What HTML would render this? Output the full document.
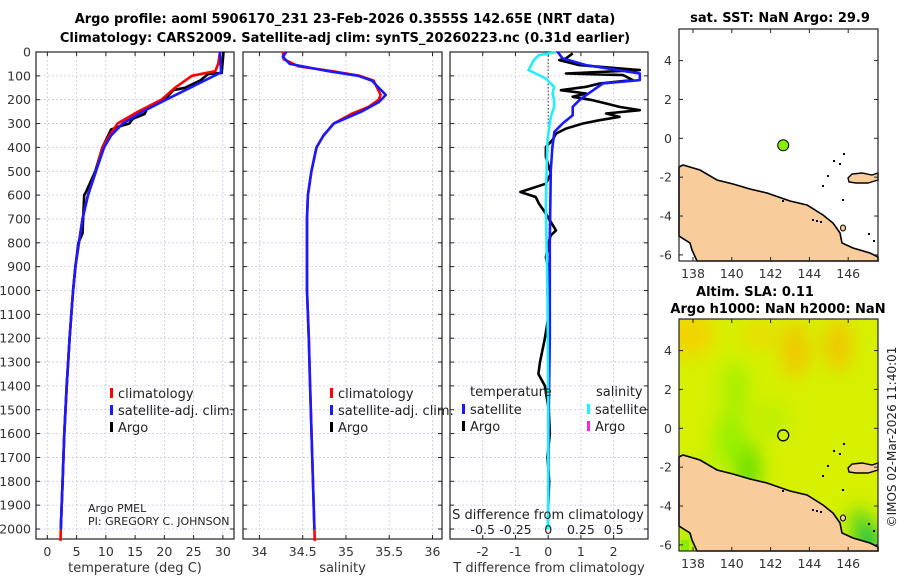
<!DOCTYPE html>
<html><head><meta charset="utf-8"><style>
html,body{margin:0;padding:0;background:#fff;}
svg{display:block;font-family:"DejaVu Sans","Liberation Sans",sans-serif;}
</style></head><body>
<svg id="c" width="900" height="580" viewBox="0 0 900 580" xmlns="http://www.w3.org/2000/svg">
<defs>
<clipPath id="mapclip2"><rect x="679" y="319" width="199" height="232"/></clipPath>
<filter id="blur" x="-50%" y="-50%" width="200%" height="200%"><feGaussianBlur stdDeviation="9"/></filter>
</defs>
<text x="345" y="23" text-anchor="middle" font-size="13" font-weight="bold">Argo profile: aoml 5906170_231 23-Feb-2026 0.3555S 142.65E (NRT data)</text>
<text x="345" y="42" text-anchor="middle" font-size="13" font-weight="bold">Climatology: CARS2009. Satellite-adj clim: synTS_20260223.nc (0.31d earlier)</text>
<g id="panels"></g>
<g id="maps"></g>
<text x="0" y="0" transform="translate(896,437) rotate(-90)" text-anchor="middle" font-size="12" fill="#222">©IMOS 02-Mar-2026 11:40:01</text>
</svg>
<script>
// ---------- data ----------
const climTDepth = [0,50,80,100,150,200,250,300,350,400,500,600,700,800,900,1000,1100,1200,1400,1600,1800,2000,2050];
const climT = [29.5,29.2,28.7,24.7,21.8,19.5,15.5,12,10.6,9.4,8.3,6.95,6.0,5.4,4.8,4.4,4.1,3.8,3.3,2.9,2.6,2.3,2.25];
const satTDepth = [0,85,140,200,250,300,350,400,500,600,700,800,900,1000,1100,1200,1400,1600,1800,2000];
const satT = [29.5,29.7,25.2,20.3,16.3,12.9,10.9,9.7,8.3,6.95,6.0,5.4,4.8,4.4,4.1,3.8,3.3,2.9,2.6,2.3];
const argoTDepth = [0,88,92,120,150,160,200,230,260,280,300,310,325,400,500,590,600,760,800,900,1000,1200,1400,1600,1800,2000];
const argoT = [30.1,29.8,27.5,26.1,23.5,21.5,20.1,17.2,16.6,14.6,14,12.6,10.9,9.4,8.2,6.55,6.3,6.0,5.3,4.8,4.4,3.8,3.3,2.9,2.6,2.3];
const climSDepth = [0,30,60,80,100,120,150,180,200,230,260,300,350,400,500,600,700,1000,1200,1400,2000,2050];
const climS = [34.27,34.28,34.45,34.84,35.16,35.32,35.36,35.40,35.38,35.26,35.06,34.86,34.74,34.66,34.60,34.56,34.55,34.55,34.57,34.585,34.635,34.64];
const satSDepth = [0,20,50,80,100,120,150,180,210,250,300,350,400,500,600,700,1000,1200,1400,2000];
const satS = [34.31,34.27,34.35,34.79,35.14,35.30,35.38,35.46,35.38,35.18,34.86,34.74,34.66,34.60,34.56,34.55,34.55,34.57,34.585,34.635];
const satDTDepth = [0,27,55,90,118,132,181,202,230,265,300,335,398,496,800,1200,1500,2000];
const satDT = [0.29,0.44,1.16,2.8,2.8,1.67,1.16,0.95,0.75,0.75,0.44,0.19,0.13,0.08,0.05,0.05,0.02,0.0];
const argoDTDepth = [6,27,34,55,76,90,97,118,132,146,160,174,188,202,216,230,244,258,272,286,300,321,342,370,398,440,510,552,587,608,636,678,748,769,790,860,930,1000,1100,1200,1300,1350,1400,1500,1600,1700,1800,1900,2000];
const argoDT = [0.75,0.54,0.34,0.95,2.8,0.54,2.29,2.59,1.57,1.16,0.39,1.16,0.75,1.36,1.77,2.18,2.8,1.77,2.18,1.57,1.06,0.54,0.24,0.13,-0.07,-0.07,0.08,-0.07,-0.85,-0.38,-0.28,-0.07,0.24,0.08,0.03,-0.07,0.03,-0.02,0.02,-0.1,-0.25,-0.3,-0.1,0.02,0.05,-0.02,0.03,0.0,0.0];
const satDSDepth = [1,13,34,76,90,111,146,174,202,230,272,314,370,510,650,800,1000,1500,2000];
const satDS = [0.06,-0.07,-0.11,-0.15,-0.095,-0.018,0.045,0.033,0.045,0.045,0.02,0.008,-0.005,-0.013,-0.018,-0.013,-0.005,0,0];
const depthTicks = [0,100,200,300,400,500,600,700,800,900,1000,1100,1200,1300,1400,1500,1600,1700,1800,1900,2000];
const tempTicks = [0,5,10,15,20,25,30];
const salTicks = [34,34.5,35,35.5,36];
const salTickLabels = ["34","34.5","35","35.5","36"];
const dTTicks = [-2,-1,0,1,2];
const dSTicks = [-0.5,-0.25,0,0.25,0.5];
const dSTickLabels = ["-0.5","-0.25","0","0.25","0.5"];
const lonTicks = [138,140,142,144,146];
const latTicks = [4,2,0,-2,-4,-6];
const argoLon = [142.65];
const argoLat = [-0.36];

// ---------- helpers ----------
const NS = "http://www.w3.org/2000/svg";
function mk(tag, attrs, parent){const e=document.createElementNS(NS,tag);for(const k in attrs)e.setAttribute(k,attrs[k]);if(parent)parent.appendChild(e);return e;}
const top0=52, bot=539, dmax=(bot-top0)/0.2385;
function yD(d){return top0 + d*0.2385;}
const panelsG=document.getElementById('panels');

function panel(name,x0,x1,dom,ticks,labels,xlabel){
  const g=mk('g',{},panelsG);
  
  
  const sx=v=>x0+(v-dom[0])/(dom[1]-dom[0])*(x1-x0);
  ticks.forEach((t,i)=>{
    const x=sx(t);
    mk('line',{x1:x,x2:x,y1:top0,y2:bot,stroke:'#c9c9ec','stroke-width':0.8,'stroke-dasharray':'2,2'},g);
    mk('line',{x1:x,x2:x,y1:bot,y2:bot-4,stroke:'#222'},g);
    mk('line',{x1:x,x2:x,y1:top0,y2:top0+4,stroke:'#222'},g);
    if(labels){const tx=mk('text',{x:x,y:556,'text-anchor':'middle','font-size':12.5,fill:'#333'},g);tx.textContent=labels[i];
      
      }
  });
  depthTicks.forEach(d=>{
    const y=yD(d);
    mk('line',{x1:x0,x2:x1,y1:y,y2:y,stroke:'#c9c9ec','stroke-width':0.8,'stroke-dasharray':'2,2'},g);
    mk('line',{x1:x0,x2:x0+4,y1:y,y2:y,stroke:'#222'},g);
    mk('line',{x1:x1,x2:x1-4,y1:y,y2:y,stroke:'#222'},g);
  });
  mk('rect',{x:x0,y:top0,width:x1-x0,height:bot-top0,fill:'none',stroke:'#222','stroke-width':1.2},g);
  if(xlabel){const t=mk('text',{x:(x0+x1)/2,y:572,'text-anchor':'middle','font-size':13,fill:'#333'},g);t.textContent=xlabel;
    
    }
  return {g,sx};
}
function line(p,depths,vals,color,name,w){
  const pts=depths.map((d,i)=>p.sx(vals[i]).toFixed(1)+','+yD(d).toFixed(1)).join(' ');
  const pl=mk('polyline',{points:pts,fill:'none',stroke:color,'stroke-width':w||2.6,'stroke-linejoin':'round'},p.g);
  
  
}
function legend(g,x,y,items){
  items.forEach((it,i)=>{
    const yy=y+i*17;
    mk('rect',{x:x,y:yy-9,width:3,height:10,fill:it[1]},g);
    const t=mk('text',{x:x+8,y:yy+1,'font-size':13,fill:'#222'},g);t.textContent=it[0];
    
    
  });
}

// depth labels
depthTicks.forEach(d=>{const t=mk('text',{x:31,y:yD(d)+4.5,'text-anchor':'end','font-size':12.5,fill:'#333'},panelsG);t.textContent=d;
  
  });

// panel 1
const p1=panel('temperature-panel',36,234,[-1.94,31.9],tempTicks,tempTicks.map(String),'temperature (deg C)');
line(p1,argoTDepth,argoT,'#000','argo-temperature-line');
line(p1,climTDepth,climT,'#f00','climatology-temperature-line');
line(p1,satTDepth,satT,'#1a1aff','satellite-temperature-line');
legend(p1.g,110,397,[['climatology','#f00'],['satellite-adj. clim.','#1a1aff'],['Argo','#000']]);
{const t=mk('text',{x:88,y:512,'font-size':11,fill:'#222'},p1.g);t.textContent='Argo PMEL';
 
 const t2=mk('text',{x:88,y:525,'font-size':11,fill:'#222'},p1.g);t2.textContent='PI: GREGORY C. JOHNSON';
 }

// panel 2
const p2=panel('salinity-panel',243,442,[33.81,36.11],salTicks,salTickLabels,'salinity');
line(p2,climSDepth,climS,'#f00','climatology-salinity-line');
line(p2,satSDepth,satS,'#1a1aff','satellite-salinity-line');
legend(p2.g,330,397,[['climatology','#f00'],['satellite-adj. clim.','#1a1aff'],['Argo','#000']]);

// panel 3
const p3=panel('difference-panel',450,648,[-3.0,3.05],dTTicks,dTTicks.map(String),'T difference from climatology');
const sxS=v=>p3.sx(v*4);
mk('line',{x1:p3.sx(0),x2:p3.sx(0),y1:top0,y2:yD(420),stroke:'#333','stroke-width':1,'stroke-dasharray':'1.5,2'},p3.g);
line(p3,argoDTDepth,argoDT,'#000','argo-temperature-difference-line');
line(p3,satDTDepth,satDT,'#1a1aff','satellite-temperature-difference-line');
line(p3,satDSDepth,satDS.map(v=>v*4),'#22eeff','satellite-salinity-difference-line');
{const t=mk('text',{x:470,y:396,'font-size':13,fill:'#222'},p3.g);t.textContent='temperature';
 
 const t2=mk('text',{x:596,y:396,'font-size':13,fill:'#222'},p3.g);t2.textContent='salinity';
 }
legend(p3.g,462,413,[['satellite','#1a1aff'],['Argo','#000']]);
legend(p3.g,587,413,[['satellite','#22eeff'],['Argo','#ff22dd']]);
{const t=mk('text',{x:548,y:519,'text-anchor':'middle','font-size':13,fill:'#222'},p3.g);t.textContent='S difference from climatology';
 }
dSTicks.forEach((v,i)=>{const t=mk('text',{x:sxS(v),y:534,'text-anchor':'middle','font-size':12.5,fill:'#222'},p3.g);t.textContent=dSTickLabels[i];
  });

// ---------- maps ----------
const mapsG=document.getElementById('maps');
const mlon=v=>693+19.4*(v-138);
function mapFrame(name,dy,title1,title2){
  const g=mk('g',{},mapsG);
  
  
  const mlat=v=>138.3+dy-19.43*v;
  return {g,mlat,dy};
}
const landPts=[[679,167],[683,165],[700,170],[717,180],[733,184],[750,189],[767,193],[790,201],[807,205],[823,215],[833,223],[840,233],[842,243],[853,248],[870,253],[878,257],[878,261],[697,261],[692,250],[690,243],[679,236]];
const islandPts=[[848,178],[852,174],[862,173],[872,175],[878,173],[878,180],[868,183],[856,183],[849,182]];
function drawLand(g,dy){
  const p=landPts.map(q=>q[0]+','+(q[1]+dy)).join(' ');
  const l=mk('polygon',{points:p,fill:'#f9cc9c',stroke:'#000','stroke-width':1.6},g);
  
  const i=mk('polygon',{points:islandPts.map(q=>q[0]+','+(q[1]+dy)).join(' '),fill:'#f9cc9c',stroke:'#000','stroke-width':1.4},g);
  
  [[812,219],[816,220],[820,221],[782,200],[827,175],[839,163],[833,160],[843,153],[822,185],[842,199],[868,233],[873,240]].forEach(q=>mk('rect',{x:q[0],y:q[1]+dy,width:2,height:2,fill:'#000'},g));
  mk('ellipse',{cx:843,cy:228+dy,rx:2.5,ry:3,fill:'#f9cc9c',stroke:'#000','stroke-width':1},g);
}
function axes(m,y0,y1){
  const g=m.g;
  mk('rect',{x:679,y:y0,width:199,height:y1-y0,fill:'none',stroke:'#222','stroke-width':1.2},g);
  lonTicks.forEach(v=>{const x=mlon(v);
    mk('line',{x1:x,x2:x,y1:y1,y2:y1-4,stroke:'#222'},g);mk('line',{x1:x,x2:x,y1:y0,y2:y0+4,stroke:'#222'},g);
    const t=mk('text',{x:x,y:y1+17,'text-anchor':'middle','font-size':12.5,fill:'#333'},g);t.textContent=v;
    });
  latTicks.forEach(v=>{const y=m.mlat(v);
    mk('line',{x1:679,x2:683,y1:y,y2:y,stroke:'#222'},g);mk('line',{x1:878,x2:874,y1:y,y2:y,stroke:'#222'},g);
    const t=mk('text',{x:672,y:y+4.5,'text-anchor':'end','font-size':12.5,fill:'#333'},g);t.textContent=v;
    });
}
// map 1
const m1=mapFrame('sst-map',0);
mk('rect',{x:679,y:29,width:199,height:232,fill:'#fff'},m1.g);
drawLand(m1.g,0);
argoLon.forEach((lo,i)=>{const c=mk('circle',{cx:mlon(lo),cy:m1.mlat(argoLat[i]),r:5.5,fill:'#88ee00',stroke:'#000','stroke-width':1},m1.g);
  });
axes(m1,29,261);
{const t=mk('text',{x:780,y:22,'text-anchor':'middle','font-size':13,'font-weight':'bold'},m1.g);t.textContent='sat. SST: NaN Argo: 29.9';
 }
// map 2
const m2=mapFrame('sla-map',290);
const bg=mk('g',{'clip-path':'url(#mapclip2)'},m2.g);
mk('rect',{x:679,y:319,width:199,height:232,fill:'#d6f000'},bg);
const blobs=mk('g',{filter:'url(#blur)'},bg);
[[690,335,25,22,'#f2d400'],[795,350,14,28,'#f0c800'],[838,345,14,26,'#f0c800'],[760,335,18,14,'#e8dc00'],[735,390,14,30,'#a8f000'],[748,470,12,30,'#66e000'],[730,440,16,28,'#9af000'],[700,480,18,20,'#b0f000'],[868,540,14,14,'#10c048'],[860,520,10,10,'#40d020'],[690,540,8,10,'#88ee00'],[770,420,20,20,'#c0f000']].forEach(b=>mk('ellipse',{cx:b[0],cy:b[1],rx:b[2],ry:b[3],fill:b[4]},blobs));
drawLand(m2.g,290);
mk('rect',{x:681,y:540,width:8,height:11,fill:'#88ee00'},m2.g);
argoLon.forEach((lo,i)=>{const c=mk('circle',{cx:mlon(lo),cy:m2.mlat(argoLat[i]),r:5.5,fill:'none',stroke:'#000','stroke-width':1.3},m2.g);
  });
axes(m2,319,551);
{const t=mk('text',{x:755,y:296,'text-anchor':'middle','font-size':13,'font-weight':'bold'},m2.g);t.textContent='Altim. SLA: 0.11';
 
 const t2=mk('text',{x:778,y:313,'text-anchor':'middle','font-size':13,'font-weight':'bold'},m2.g);t2.textContent='Argo h1000: NaN h2000: NaN';
 }
</script>
</body></html>
